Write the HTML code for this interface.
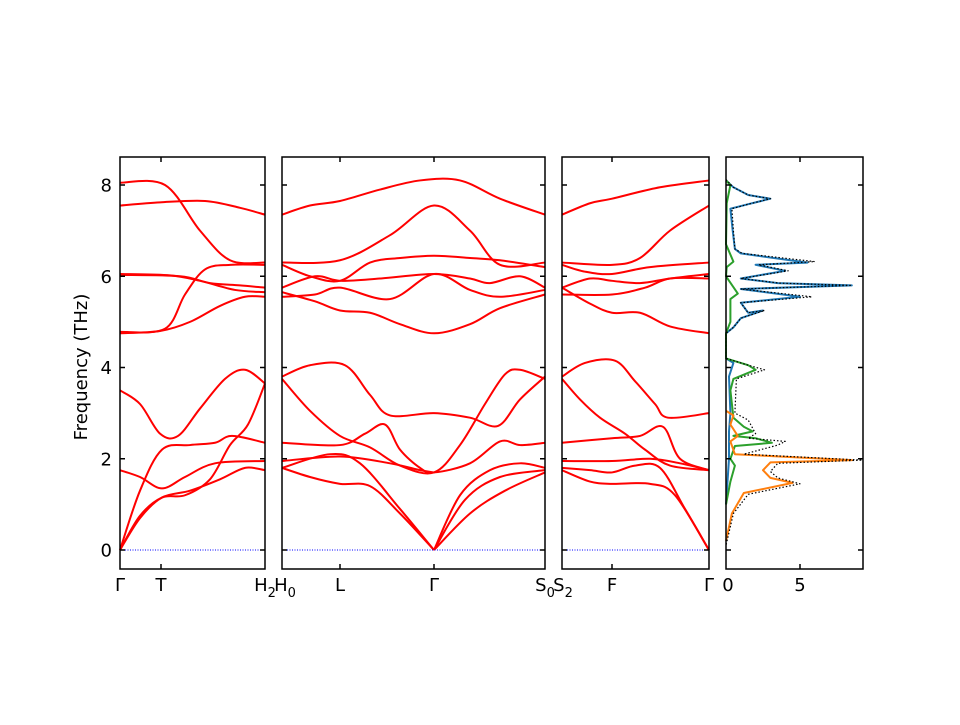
<!DOCTYPE html>
<html><head><meta charset="utf-8"><style>
body{margin:0;background:#fff}
svg text{font-family:"DejaVu Sans","Liberation Sans",sans-serif;font-size:18px;fill:#000}
</style></head><body>
<svg id="s" width="960" height="720" xmlns="http://www.w3.org/2000/svg">
<rect width="960" height="720" fill="#fff"/>
<g id="bands" fill="none" stroke="#ff0000" stroke-width="2"></g>
<g id="dos" fill="none"></g>
<g id="frame" fill="none" stroke="#000" stroke-width="1.5"></g>
<g id="txt"></g>
</svg>
<script>
var Y=function(f){return 550-45.625*f;};
var NS="http://www.w3.org/2000/svg";
function el(p,t,a,txt){var e=document.createElementNS(NS,t);for(var k in a)e.setAttribute(k,a[k]);if(txt!==undefined)e.textContent=txt;document.getElementById(p).appendChild(e);return e;}
function smooth(pts){var d="M"+pts[0][0]+","+pts[0][1];for(var i=0;i<pts.length-1;i++){var p0=pts[i-1]||pts[i],p1=pts[i],p2=pts[i+1],p3=pts[i+2]||p2;
var c1x=p1[0]+(p2[0]-p0[0])/6,c1y=p1[1]+(p2[1]-p0[1])/6,c2x=p2[0]-(p3[0]-p1[0])/6,c2y=p2[1]-(p3[1]-p1[1])/6;
d+=" C"+c1x.toFixed(1)+","+c1y.toFixed(1)+" "+c2x.toFixed(1)+","+c2y.toFixed(1)+" "+p2[0]+","+p2[1];}return d;}
function band(a){el("bands","path",{d:smooth(a.map(function(p){return [p[0],Y(p[1])];}))});}
var B=[
[[120,8.05],[165,8.0],[200,7.0],[230,6.35],[265,6.3]],
[[120,7.55],[160,7.62],[205,7.65],[240,7.5],[265,7.35]],
[[120,6.05],[170,6.02],[200,5.9],[235,5.7],[265,5.65]],
[[120,6.03],[180,6.0],[210,5.85],[240,5.8],[265,5.75]],
[[120,4.78],[165,4.85],[185,5.6],[205,6.15],[230,6.25],[265,6.25]],
[[120,4.75],[160,4.8],[190,5.0],[220,5.35],[245,5.55],[265,5.55]],
[[120,3.5],[140,3.2],[160,2.55],[178,2.5],[200,3.1],[225,3.75],[245,3.95],[265,3.65]],
[[120,0],[140,1.3],[162,2.2],[190,2.3],[215,2.35],[232,2.5],[265,2.35]],
[[120,1.75],[140,1.6],[162,1.35],[185,1.6],[215,1.9],[265,1.95]],
[[120,0],[140,0.7],[162,1.15],[190,1.3],[220,1.55],[245,1.8],[265,1.75]],
[[120,0],[140,0.75],[162,1.15],[185,1.2],[210,1.55],[230,2.3],[248,2.75],[265,3.65]],
[[282,7.35],[310,7.55],[340,7.65],[380,7.9],[420,8.1],[460,8.1],[500,7.7],[545,7.35]],
[[282,6.3],[340,6.35],[390,6.9],[434,7.55],[470,7.0],[500,6.25],[545,6.3]],
[[282,6.25],[310,6.0],[340,5.9],[370,6.3],[400,6.4],[434,6.45],[470,6.4],[500,6.35],[545,6.2]],
[[282,5.75],[315,6.0],[340,5.9],[380,5.95],[434,6.05],[470,5.95],[490,5.85],[520,6.0],[545,5.75]],
[[282,5.55],[315,5.6],[340,5.75],[390,5.5],[434,6.05],[470,5.7],[500,5.55],[545,5.7]],
[[282,5.65],[315,5.45],[340,5.25],[370,5.2],[400,4.95],[434,4.75],[470,4.95],[500,5.3],[545,5.6]],
[[282,3.8],[310,4.05],[345,4.05],[370,3.4],[390,2.95],[434,3.0],[470,2.9],[498,2.72],[520,3.3],[545,3.8]],
[[282,3.75],[310,3.05],[340,2.5],[370,2.25],[400,1.85],[434,1.7],[460,2.3],[485,3.2],[505,3.85],[520,3.95],[545,3.75]],
[[282,2.35],[340,2.3],[365,2.55],[385,2.75],[400,2.2],[420,1.8],[434,1.7],[470,1.9],[500,2.38],[520,2.3],[545,2.35]],
[[282,1.95],[340,2.05],[390,1.9],[420,1.75],[434,1.7]],
[[282,1.8],[330,2.1],[360,1.9],[400,0.9],[434,0]],
[[282,1.8],[310,1.6],[340,1.45],[370,1.4],[400,0.8],[434,0]],
[[434,0],[460,1.2],[490,1.75],[520,1.9],[545,1.8]],
[[434,0],[465,1.1],[500,1.6],[545,1.75]],
[[434,0],[470,0.8],[505,1.3],[545,1.7]],
[[562,7.35],[590,7.6],[612,7.7],[660,7.95],[709,8.1]],
[[562,6.3],[612,6.25],[640,6.4],[670,7.0],[709,7.55]],
[[562,6.25],[585,6.1],[612,6.05],[650,6.2],[709,6.3]],
[[562,5.75],[590,5.95],[612,5.9],[640,5.85],[670,5.95],[709,6.05]],
[[562,5.6],[612,5.6],[645,5.75],[670,5.95],[709,5.95]],
[[562,5.75],[590,5.4],[612,5.2],[640,5.2],[670,4.9],[709,4.75]],
[[562,3.8],[585,4.1],[615,4.15],[635,3.7],[655,3.2],[668,2.9],[709,3.0]],
[[562,3.75],[580,3.3],[600,2.9],[625,2.55],[645,2.2],[670,1.85],[709,1.75]],
[[562,2.35],[612,2.45],[640,2.5],[663,2.7],[680,2.0],[709,1.75]],
[[562,1.95],[612,1.95],[650,2.0],[680,1.9],[709,1.75]],
[[562,1.8],[590,1.75],[612,1.7],[635,1.85],[660,1.8],[685,0.9],[709,0]],
[[562,1.75],[590,1.5],[612,1.45],[650,1.45],[675,1.2],[709,0]]
];
B.forEach(band);
[[120,265],[282,545],[562,709]].forEach(function(r){el("bands","line",{x1:r[0],x2:r[1],y1:550,y2:550,stroke:"#0000ff","stroke-width":1,"stroke-dasharray":"1,1.5"});});
function dos(a,c,w,dash){var pts=a.map(function(p){return (726+14.8*p[0]).toFixed(1)+","+Y(p[1]).toFixed(1);}).join(" ");var o={points:pts,stroke:c,"stroke-width":w,"stroke-linejoin":"round"};if(dash)o["stroke-dasharray"]=dash;el("dos","polyline",o);}
var blue=[[0,8.1],[0.5,7.95],[1.5,7.78],[3,7.7],[1.5,7.58],[0.3,7.48],[0.45,7.0],[0.6,6.6],[1,6.5],[5.5,6.3],[2,6.25],[4,6.12],[1,5.95],[3.5,5.85],[8.5,5.8],[1,5.72],[5,5.55],[1,5.42],[1.5,5.2],[2.5,5.25],[1,5.08],[0.5,4.88],[0,4.75],[0,4.2],[0.5,4.1],[0.2,3.8],[0.3,3.0],[0.2,2.6],[0.2,2.0],[0.1,1.5],[0,1.0]];
var green=[[0,8.1],[0.3,8.0],[0.05,7.6],[0,6.7],[0.5,6.32],[0.05,6.2],[0,6.0],[0.8,5.62],[0.3,5.5],[0.3,5.0],[0,4.75],[0,4.2],[1.5,4.05],[2,3.95],[0.5,3.75],[0.3,3.5],[0.5,2.9],[1.2,2.7],[1.8,2.6],[0.5,2.5],[2,2.45],[3.1,2.35],[0.6,2.28],[0.3,2.0],[0.6,1.85],[0.3,1.5],[0,1.0]];
var orange=[[0,3.05],[0.5,2.95],[0.3,2.75],[0.8,2.5],[0.3,2.38],[0.6,2.1],[8.5,1.97],[3,1.92],[2.5,1.75],[3,1.58],[4.5,1.47],[1.2,1.25],[0.4,0.8],[0,0.2]];
var total=[[0,8.12],[0.5,7.95],[1.5,7.78],[3,7.7],[1.5,7.58],[0.4,7.48],[0.5,7.0],[0.6,6.6],[1.1,6.5],[6,6.32],[2.2,6.25],[4.2,6.12],[1,5.95],[3.6,5.85],[8.5,5.8],[1,5.72],[5.8,5.55],[1,5.42],[1.5,5.2],[2.6,5.25],[1,5.08],[0.5,4.88],[0,4.75],[0,4.2],[1.5,4.05],[2.6,3.95],[0.7,3.75],[0.6,3.0],[1.5,2.85],[2,2.55],[1.5,2.45],[4,2.38],[3.5,2.3],[1.2,2.1],[9.2,1.97],[3.5,1.9],[3,1.72],[3.5,1.58],[5,1.45],[1.5,1.22],[0.5,0.8],[0,0.1]];
dos(blue,"#1f77b4",2);dos(green,"#2ca02c",2);dos(orange,"#ff7f0e",2);dos(total,"#000",1.2,"1.5,2");
var P=[[120,265,[161]],[282,545,[340,434]],[562,709,[612]],[726,863,[800]]];
P.forEach(function(p){el("frame","rect",{x:p[0],y:157,width:p[1]-p[0],height:412});
[0,2,4,6,8].forEach(function(f){var y=Y(f);el("frame","line",{x1:p[0],x2:p[0]+5,y1:y,y2:y});el("frame","line",{x1:p[1]-5,x2:p[1],y1:y,y2:y});});
p[2].forEach(function(x){el("frame","line",{x1:x,x2:x,y1:569,y2:564});el("frame","line",{x1:x,x2:x,y1:157,y2:162});});});
[0,2,4,6,8].forEach(function(f){el("txt","text",{x:112,y:Y(f)+6.5,"text-anchor":"end"},f);});
el("txt","text",{x:0,y:0,transform:"translate(87,367) rotate(-90)","text-anchor":"middle"},"Frequency (THz)");
function lab(x,s,sub){var t=el("txt","text",{x:x,y:591,"text-anchor":"middle"});t.appendChild(document.createTextNode(s));if(sub){var ts=document.createElementNS(NS,"tspan");ts.setAttribute("dy","6");ts.setAttribute("font-size","13");ts.textContent=sub;t.appendChild(ts);}}
lab(120,"Γ");lab(161,"T");lab(265,"H","2");lab(285,"H","0");lab(340,"L");lab(434,"Γ");lab(545,"S","0");lab(563,"S","2");lab(612,"F");lab(709,"Γ");lab(728,"0");lab(800,"5");
</script>
</body></html>
